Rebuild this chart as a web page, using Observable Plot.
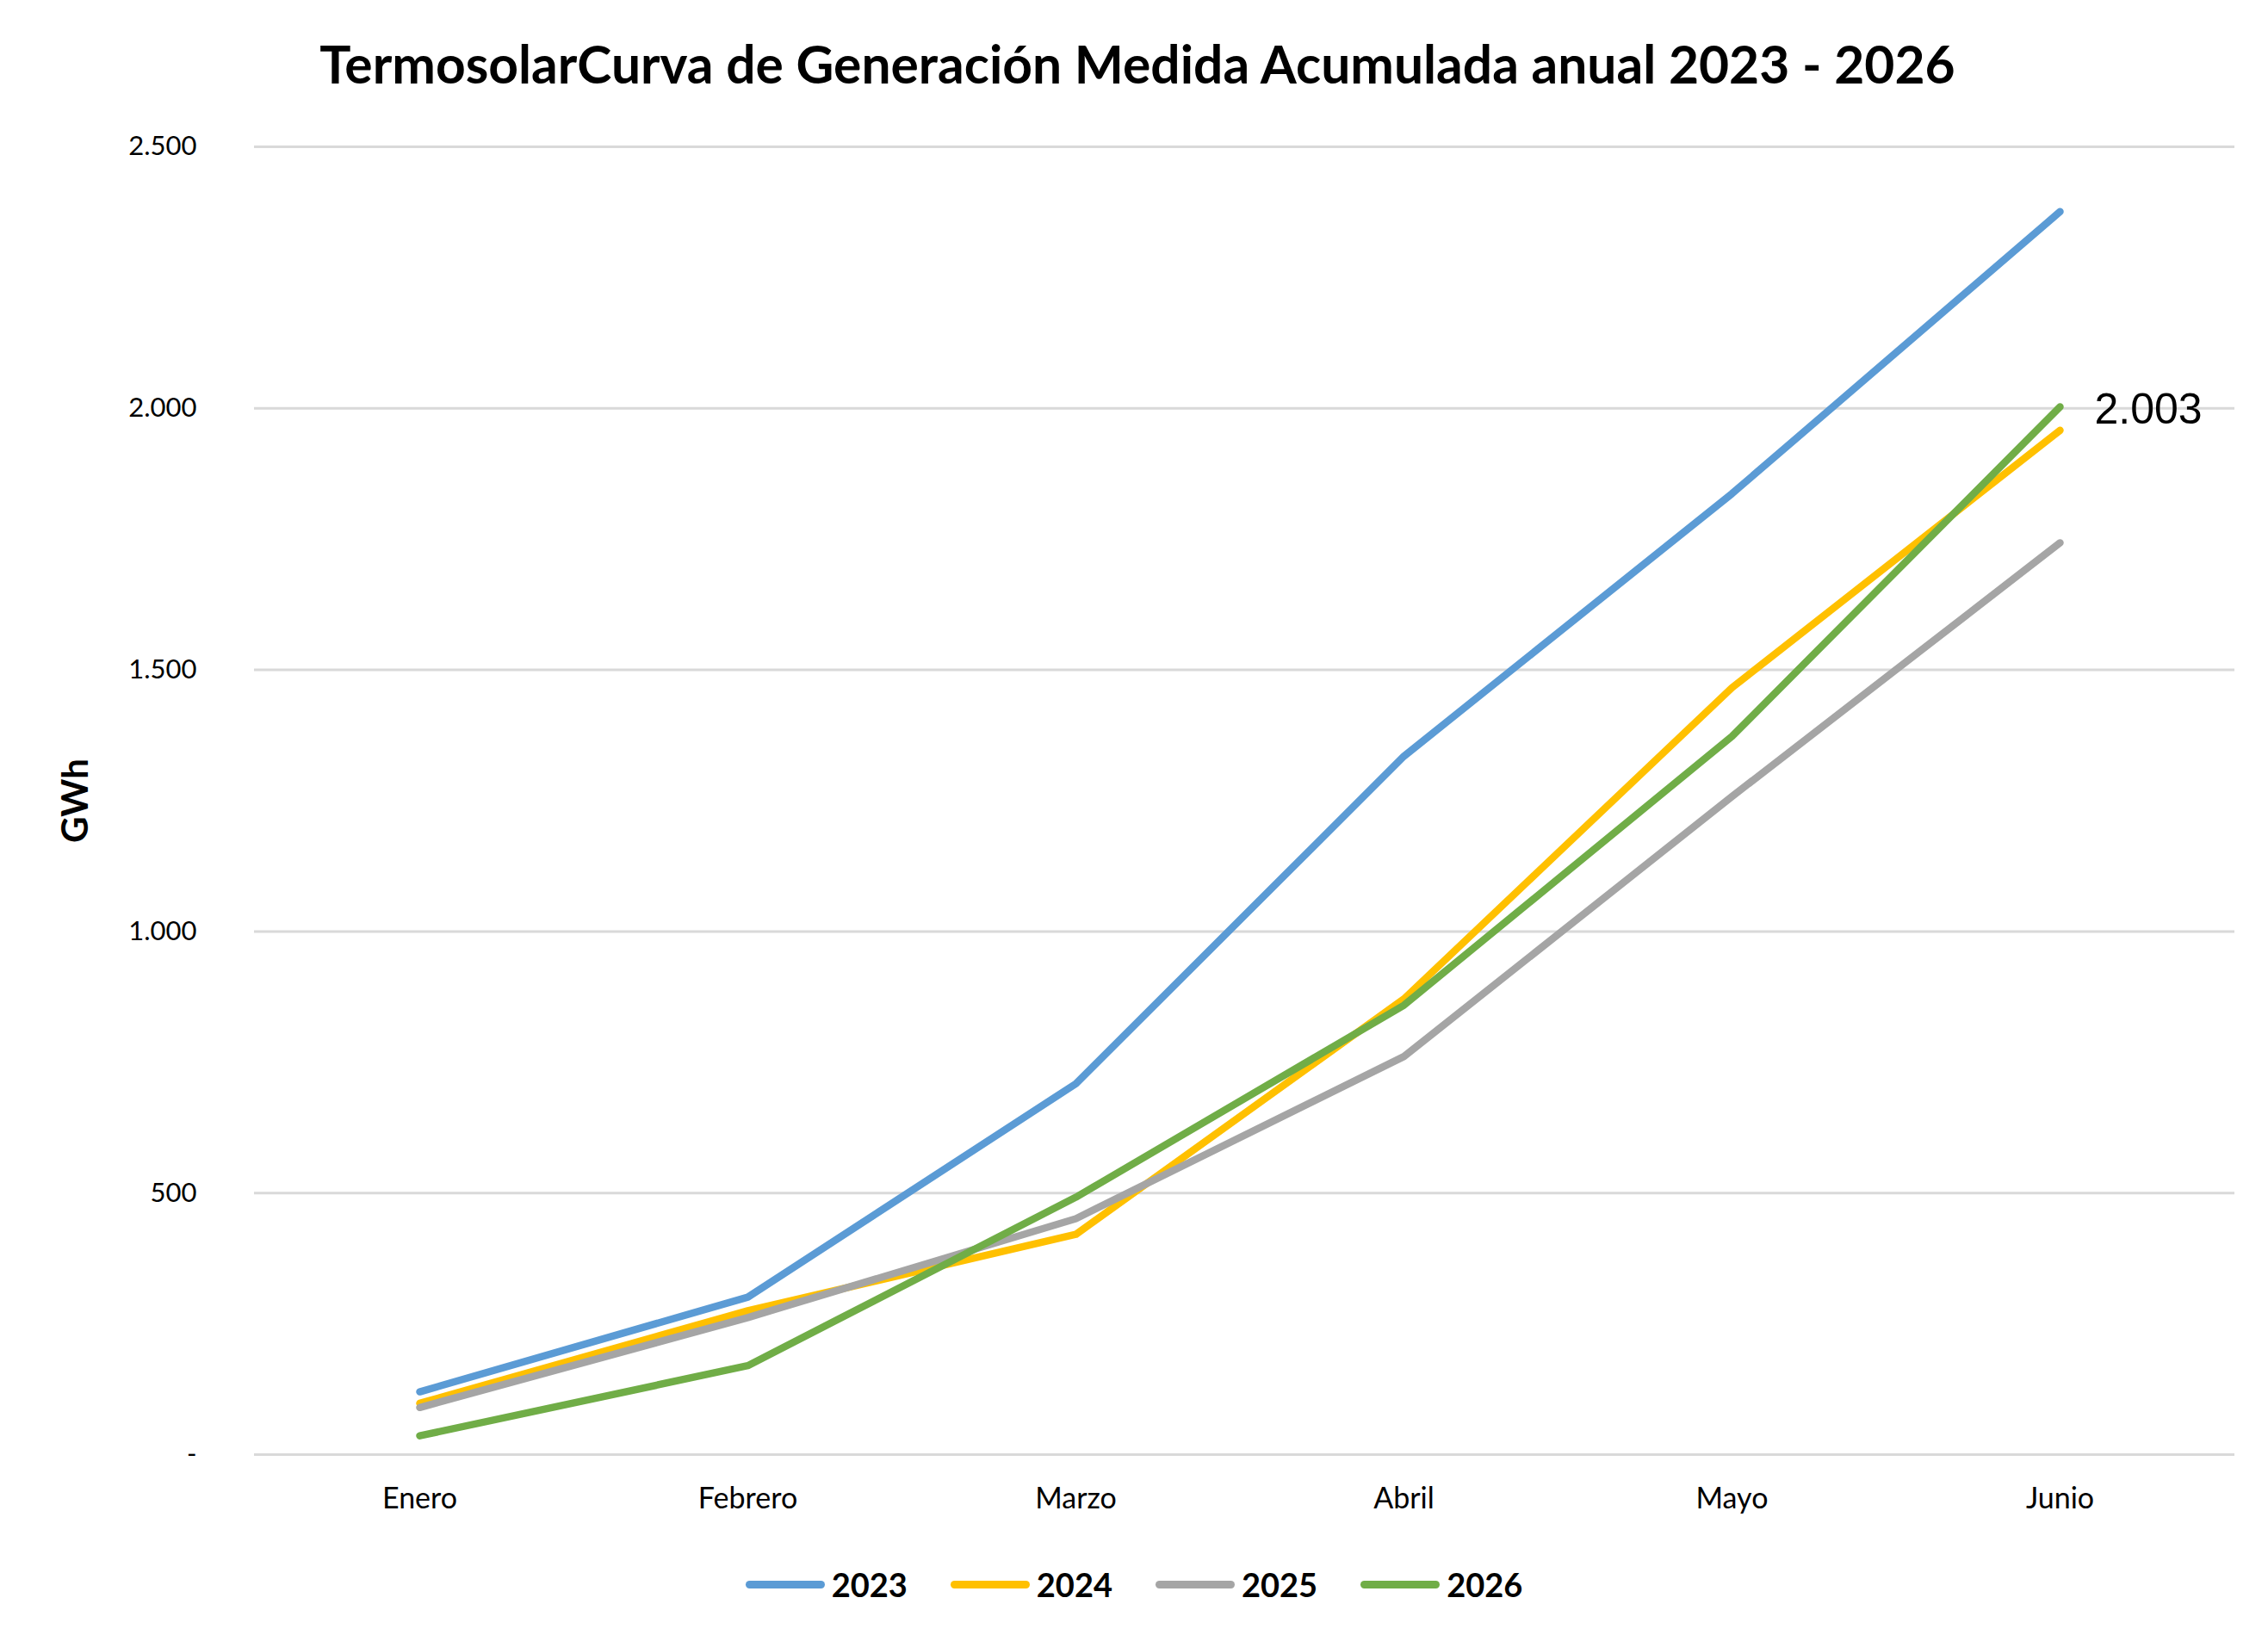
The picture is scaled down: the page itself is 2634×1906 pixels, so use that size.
<!DOCTYPE html>
<html>
<head>
<meta charset="utf-8">
<script src="https://cdn.jsdelivr.net/npm/d3@7"></script>
<script src="https://cdn.jsdelivr.net/npm/@observablehq/plot@0.6"></script>
<style>
  html, body { margin: 0; padding: 0; background: #fff; }
  #wrap { width: 2634px; height: 1906px; position: relative; font-family: Lato, "Open Sans", sans-serif; }
  #title { height: 120px; box-sizing: border-box; padding-top: 44px; padding-left: 8px; text-align: center;
           font-weight: 700; font-size: 60.5px; line-height: 1; color: #000; }
  #legend { display: flex; justify-content: center; align-items: center; gap: 50px; padding-top: 38px; padding-left: 0px;
            font-weight: 700; font-size: 38px; color: #000; }
  .item { display: flex; align-items: center; gap: 8px; }
  .sw { width: 92px; height: 9px; border-radius: 5px; }
</style>
</head>
<body>
<div id="wrap">
  <div id="title"></div>
  <div id="chart"></div>
  <div id="legend"></div>
</div>
<script>
const titleText = "TermosolarCurva de Generación Medida Acumulada anual 2023 - 2026";
const months = ["Enero", "Febrero", "Marzo", "Abril", "Mayo", "Junio"];
const years = ["2023", "2024", "2025", "2026"];
const colors = ["#5B9BD5", "#FFC000", "#A5A5A5", "#70AD47"];
const v2023 = [120, 301, 709, 1335, 1837, 2376];
const v2024 = [98, 275, 421, 871, 1466, 1958];
const v2025 = [90, 262, 451, 761, 1258, 1743];
const v2026 = [36, 170, 492, 859, 1373, 2003];
const yTicks = [0, 500, 1000, 1500, 2000, 2500];
const yLabel = "GWh";
const endLabel = "2.003";

const seriesValues = {"2023": v2023, "2024": v2024, "2025": v2025, "2026": v2026};
const data = [];
for (const yr of years) seriesValues[yr].forEach((v, i) => data.push({year: yr, month: months[i], value: v}));

const fmt = d => d === 0 ? "-" : d3.format(",")(d).replace(/,/g, ".");

document.getElementById("title").textContent = titleText;

const chart = Plot.plot({
  width: 2634,
  height: 1659,
  marginTop: 50,
  marginLeft: 295,
  marginRight: 39,
  marginBottom: 90,
  style: {fontFamily: "Lato, 'Open Sans', sans-serif", color: "#000", background: "#fff", overflow: "visible"},
  x: {type: "point", domain: months, range: [485, 2393], padding: 0, label: null},
  y: {domain: [0, 2500], label: null},
  color: {domain: years, range: colors},
  marks: [
    Plot.gridY(yTicks, {stroke: "#d9d9d9", strokeOpacity: 1, strokeWidth: 3}),
    Plot.axisY(yTicks, {tickSize: 0, tickPadding: 67, tickFormat: fmt, fontSize: 31, label: null, letterSpacing: "4px"}),
    Plot.axisX({tickSize: 0, tickPadding: 38, fontSize: 34, label: null}),
    Plot.text([yLabel], {frameAnchor: "left", dx: -207, rotate: -90, textAnchor: "middle",
                         fontWeight: 700, fontSize: 42, fill: "#000"}),
    Plot.line(data, {x: "month", y: "value", z: "year", stroke: "year", strokeWidth: 8.5,
                     strokeLinecap: "round", strokeLinejoin: "round"}),
    Plot.text(data.filter(d => d.year === "2026" && d.month === "Junio"),
              {x: "month", y: "value", text: () => endLabel, dx: 40, dy: 4, textAnchor: "start",
               fontSize: 50, fontFamily: "'Liberation Sans', Arial, sans-serif", fill: "#000", lineAnchor: "middle"})
  ]
});
document.getElementById("chart").appendChild(chart);

const legend = document.getElementById("legend");
years.forEach((yr, i) => {
  const it = document.createElement("div");
  it.className = "item";
  const sw = document.createElement("div");
  sw.className = "sw";
  sw.style.background = colors[i];
  const lb = document.createElement("span");
  lb.textContent = yr;
  it.appendChild(sw);
  it.appendChild(lb);
  legend.appendChild(it);
});
</script>
</body>
</html>
